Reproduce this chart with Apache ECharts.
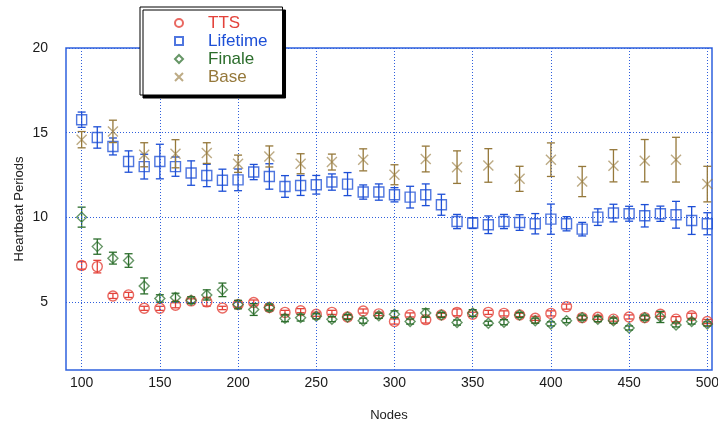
<!DOCTYPE html>
<html><head><meta charset="utf-8">
<script src="https://cdn.jsdelivr.net/npm/echarts@6/dist/echarts.min.js"></script>
<style>html,body{margin:0;padding:0;background:#fff}#c{width:718px;height:423px}</style>
</head><body><div id="c"></div>
<script>
const nodes = [100,110,120,130,140,150,160,170,180,190,200,210,220,230,240,250,260,270,280,290,300,310,320,330,340,350,360,370,380,390,400,410,420,430,440,450,460,470,480,490,500];
const ttsMean = [7.17,7.1,5.37,5.43,4.64,4.64,4.82,5.08,5.02,4.66,4.86,4.98,4.69,4.4,4.5,4.29,4.4,4.13,4.48,4.31,3.86,4.25,3.97,4.25,4.4,4.29,4.4,4.34,4.25,4.05,4.34,4.74,4.09,4.11,4.0,4.13,4.09,4.29,4.0,4.2,3.86];
const ttsErr = [0.22,0.37,0.15,0.15,0.12,0.12,0.15,0.12,0.25,0.1,0.15,0.15,0.12,0.12,0.12,0.12,0.12,0.1,0.12,0.1,0.15,0.12,0.2,0.1,0.2,0.12,0.12,0.15,0.1,0.12,0.15,0.15,0.1,0.12,0.12,0.12,0.1,0.12,0.15,0.15,0.12];
const lifeMean = [15.77,14.72,14.19,13.3,13.0,13.3,13.0,12.62,12.48,12.2,12.22,12.68,12.42,11.83,11.89,11.93,12.09,11.97,11.5,11.5,11.34,11.2,11.34,10.75,9.76,9.67,9.57,9.76,9.7,9.63,9.9,9.63,9.31,10.02,10.26,10.22,10.1,10.22,10.16,9.82,9.63];
const lifeErr = [0.45,0.63,0.5,0.63,0.73,1.02,0.57,0.72,0.66,0.65,0.64,0.45,0.75,0.64,0.59,0.55,0.48,0.68,0.42,0.48,0.42,0.64,0.64,0.62,0.42,0.32,0.52,0.42,0.46,0.6,0.89,0.42,0.4,0.49,0.52,0.44,0.66,0.45,0.79,0.82,0.65];
const finMean = [10.02,8.28,7.6,7.46,5.96,5.22,5.28,5.12,5.43,5.73,4.86,4.57,4.69,4.05,4.09,4.17,4.0,4.13,3.91,4.2,4.29,3.86,4.36,4.25,3.8,4.36,3.76,3.82,4.25,3.91,3.72,3.91,4.09,4.0,3.91,3.48,4.09,4.13,3.66,3.86,3.72];
const finErr = [0.59,0.45,0.35,0.4,0.47,0.22,0.25,0.2,0.3,0.4,0.25,0.35,0.2,0.2,0.2,0.15,0.15,0.15,0.15,0.15,0.2,0.15,0.25,0.15,0.15,0.2,0.12,0.15,0.15,0.15,0.12,0.12,0.15,0.15,0.15,0.12,0.15,0.33,0.12,0.15,0.12];
const baseNodes = [100,120,140,160,180,200,220,240,260,280,300,320,340,360,380,400,420,440,460,480,500];
const baseMean = [14.59,15.08,13.7,13.76,13.8,13.17,13.6,13.17,13.27,13.4,12.52,13.45,12.97,13.07,12.28,13.41,12.12,13.05,13.35,13.41,11.97];
const baseErr = [0.48,0.66,0.71,0.83,0.61,0.51,0.62,0.59,0.47,0.65,0.59,0.76,0.96,0.99,0.74,0.99,0.89,0.95,1.25,1.32,1.05];
const xTicks = [100,150,200,250,300,350,400,450,500];
const yTicks = [5,10,15,20];
const seriesNames = ['TTS','Lifetime','Finale','Base'];

const colors = {TTS:'#e3423a', Lifetime:'#1d4fd6', Finale:'#2b6d2b', Base:'#95783a'};
const markColors = {TTS:'rgba(227,66,58,0.8)', Lifetime:'rgba(29,79,214,0.78)', Finale:'rgba(43,109,43,0.72)', Base:'rgba(149,120,58,0.62)'};
const symbols = {TTS:'circle', Lifetime:'rect', Finale:'diamond', Base:'path://M0,0L10,10M0,10L10,0'};
const sizes = {TTS:10, Lifetime:10, Finale:10, Base:10};

function pts(xs, ys, es){ return xs.map((x,i)=>[x, ys[i], es[i]]); }
const dataSets = {
  TTS: pts(nodes, ttsMean, ttsErr),
  Lifetime: pts(nodes, lifeMean, lifeErr),
  Finale: pts(nodes, finMean, finErr),
  Base: pts(baseNodes, baseMean, baseErr)
};

function errRender(color){
  return function(params, api){
    const x = api.value(0), m = api.value(1), e = api.value(2);
    const t = api.coord([x, m+e]), b = api.coord([x, m-e]);
    const w = 4;
    const st = {stroke: color, lineWidth: 1.3};
    return {type:'group', children:[
      {type:'line', shape:{x1:t[0],y1:t[1],x2:b[0],y2:b[1]}, style:st},
      {type:'line', shape:{x1:t[0]-w,y1:t[1],x2:t[0]+w,y2:t[1]}, style:st},
      {type:'line', shape:{x1:b[0]-w,y1:b[1],x2:b[0]+w,y2:b[1]}, style:st}
    ]};
  };
}

const gridColor = '#2f5fdc';
const series = [{
  type:'scatter', name:'grid', data:[], z:1, silent:true,
  markLine:{silent:true, symbol:'none', label:{show:false}, animation:false,
    lineStyle:{color:gridColor, type:[1,2], width:1},
    data: xTicks.map(v=>({xAxis:v})).concat(yTicks.map(v=>({yAxis:v})))}
}];
seriesNames.forEach((n,k)=>{
  series.push({type:'custom', name:n+' err', data:dataSets[n], renderItem:errRender(colors[n]), z:2+k, silent:true,
    encode:{x:0,y:1}});
  series.push({type:'scatter', name:n, data:dataSets[n].map(d=>[d[0],d[1]]), symbol:symbols[n], symbolSize:sizes[n],
    symbolKeepAspect:true, z:2+k,
    itemStyle:{color:'rgba(0,0,0,0)', borderColor:markColors[n], borderWidth:1.4, opacity:1}});
});

const chart = echarts.init(document.getElementById('c'), null, {renderer:'canvas'});
chart.setOption({
  animation:false,
  backgroundColor:'#fff',
  textStyle:{fontFamily:'Liberation Sans'},
  grid:{left:66, right:6, top:48, bottom:53, show:true, borderColor:'#2f62de', borderWidth:1.5, backgroundColor:'transparent',
    outerBoundsMode:'none', containLabel:false},
  legend:{
    data: seriesNames.map(n=>({name:n, textStyle:{color:colors[n]}})),
    orient:'vertical', left:140, top:7, itemWidth:8, itemHeight:8, itemGap:0,
    padding:[7,15,9,34], backgroundColor:'#fff', borderColor:'#000', borderWidth:1,
    shadowColor:'#000', shadowBlur:0, shadowOffsetX:3, shadowOffsetY:3,
    textStyle:{fontSize:17, lineHeight:18, fontFamily:'Liberation Sans', padding:[0,0,0,20]},
    selectedMode:false, z:10
  },
  xAxis:{type:'value', min:90, max:503, interval:10,
    name:'Nodes', nameLocation:'middle', nameGap:39, nameMoveOverlap:false, nameTextStyle:{fontSize:13, color:'#222'},
    axisLine:{show:false}, axisTick:{show:false}, splitLine:{show:false},
    axisLabel:{margin:6, fontSize:14, color:'#1a1a1a', formatter:v=> xTicks.includes(v)? String(v):''}},
  yAxis:{type:'value', min:1, max:20, interval:1,
    name:'Heartbeat Periods', nameLocation:'middle', nameGap:40, nameMoveOverlap:false, nameTextStyle:{fontSize:13, color:'#222'},
    axisLine:{show:false}, axisTick:{show:false}, splitLine:{show:false},
    axisLabel:{margin:18, fontSize:14, color:'#1a1a1a', formatter:v=> yTicks.includes(v)? String(v):''}},
  series: series
});
</script></body></html>
